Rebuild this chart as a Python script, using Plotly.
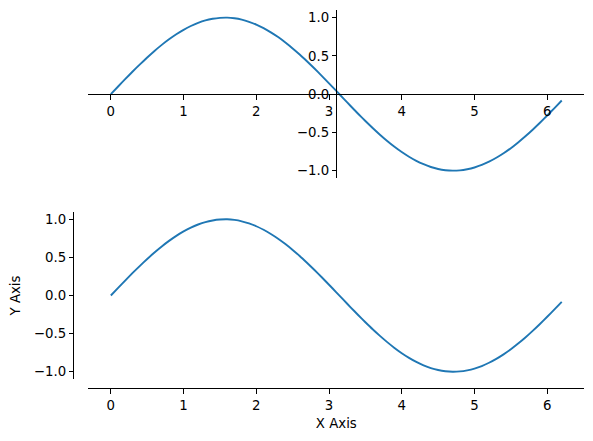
import plotly.graph_objects as go

x_vals = [0.0, 0.1, 0.2, 0.3, 0.4, 0.5, 0.6, 0.7, 0.8, 0.9,
          1.0, 1.1, 1.2, 1.3, 1.4, 1.5, 1.6, 1.7, 1.8, 1.9,
          2.0, 2.1, 2.2, 2.3, 2.4, 2.5, 2.6, 2.7, 2.8, 2.9,
          3.0, 3.1, 3.2, 3.3, 3.4, 3.5, 3.6, 3.7, 3.8, 3.9,
          4.0, 4.1, 4.2, 4.3, 4.4, 4.5, 4.6, 4.7, 4.8, 4.9,
          5.0, 5.1, 5.2, 5.3, 5.4, 5.5, 5.6, 5.7, 5.8, 5.9,
          6.0, 6.1, 6.2]
y_vals = [0.000, 0.100, 0.199, 0.296, 0.389, 0.479, 0.565, 0.644, 0.717, 0.783,
          0.841, 0.891, 0.932, 0.964, 0.985, 0.997, 1.000, 0.992, 0.974, 0.946,
          0.909, 0.863, 0.808, 0.746, 0.675, 0.598, 0.516, 0.427, 0.335, 0.239,
          0.141, 0.042, -0.058, -0.158, -0.256, -0.351, -0.443, -0.530, -0.612, -0.688,
          -0.757, -0.818, -0.872, -0.916, -0.952, -0.978, -0.994, -1.000, -0.996, -0.982,
          -0.959, -0.926, -0.883, -0.832, -0.773, -0.706, -0.631, -0.551, -0.465, -0.374,
          -0.279, -0.182, -0.083]

x_ticks = [0, 1, 2, 3, 4, 5, 6]
y_ticks = [-1.0, -0.5, 0.0, 0.5, 1.0]
y_tick_text = ["\u22121.0", "\u22120.5", "0.0", "0.5", "1.0"]

W, H = 593, 441
line_color = "#1f77b4"
font = dict(family="DejaVu Sans", size=13.3, color="black")

fig = go.Figure()
for xa, ya in [("x", "y"), ("x2", "y2")]:
    fig.add_trace(go.Scatter(x=x_vals, y=y_vals, mode="lines", xaxis=xa, yaxis=ya,
                             line=dict(color=line_color, width=1.9, simplify=False,
                                       shape="spline", smoothing=0.5),
                             showlegend=False, hoverinfo="skip"))

x_dom = [88.3 / W, 584.3 / W]
top_dom = [1 - 178.3 / H, 1 - 10 / H]
bot_dom = [1 - 379.3 / H, 1 - 211.7 / H]

common = dict(showgrid=False, zeroline=False, showline=True, linecolor="black",
              linewidth=1, ticks="outside", ticklen=4.5, tickwidth=1,
              tickcolor="black", tickfont=font, anchor="free")

fig.update_layout(
    width=W, height=H,
    margin=dict(l=0, r=0, t=0, b=0),
    paper_bgcolor="white", plot_bgcolor="white",
    font=font,
    # top: spines through the centre
    xaxis=dict(common, domain=x_dom, range=[-0.31, 6.51],
               tickvals=x_ticks, position=1 - 94.3 / H),
    yaxis=dict(common, domain=top_dom, range=[-1.1, 1.1],
               tickvals=y_ticks, ticktext=y_tick_text, position=336.3 / W),
    # bottom: spines pushed outward
    xaxis2=dict(common, domain=x_dom, range=[-0.31, 6.51],
                tickvals=x_ticks, position=1 - 388.3 / H,
                title=dict(text="X Axis", font=font, standoff=6)),
    yaxis2=dict(common, domain=bot_dom, range=[-1.1, 1.1],
                tickvals=y_ticks, ticktext=y_tick_text, position=73.3 / W,
                title=dict(text="Y Axis", font=font, standoff=9)),
)

fig.write_html("out.html", config={"displayModeBar": False},
               post_script="document.body.style.margin='0';")
